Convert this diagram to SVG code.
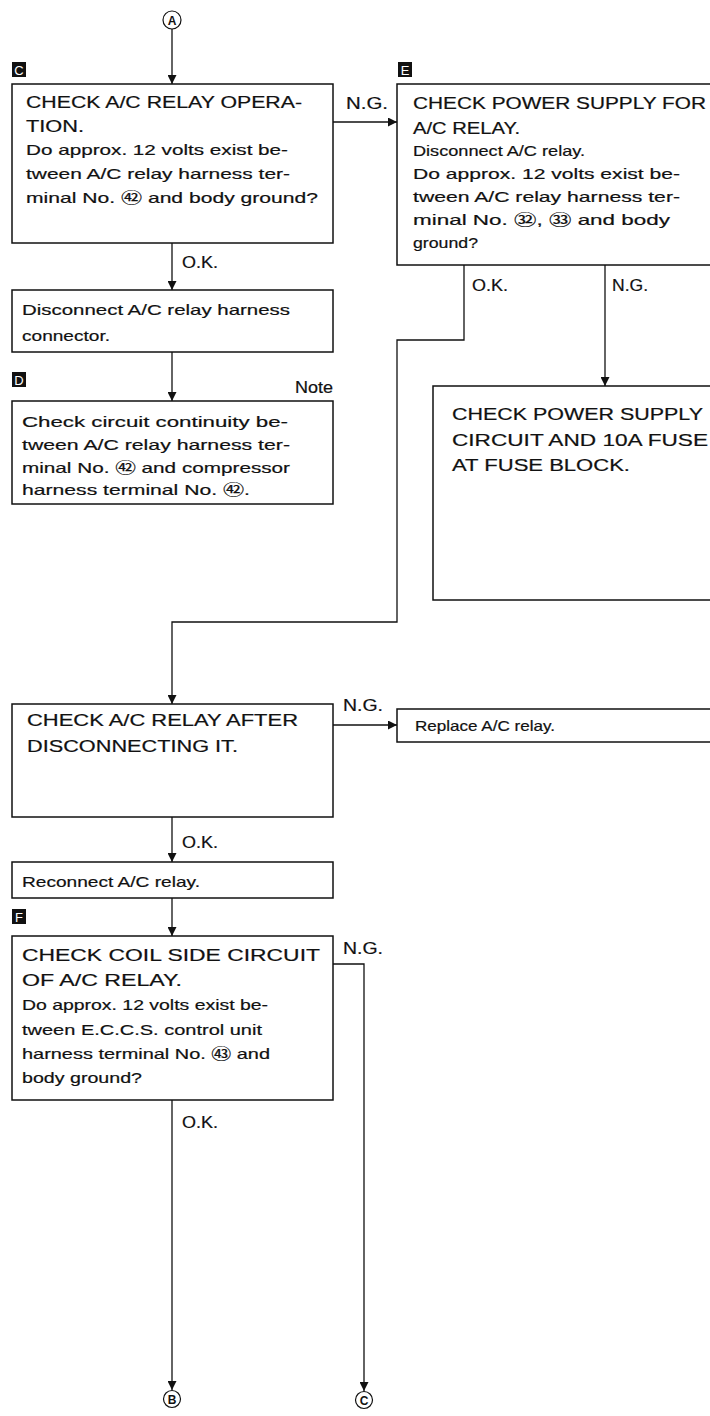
<svg xmlns="http://www.w3.org/2000/svg" width="710" height="1416" viewBox="0 0 710 1416">
<style>
.box{fill:#fff;stroke:#111;stroke-width:1.5}
.t{font-family:"Liberation Sans","Noto Sans CJK JP",sans-serif;font-size:16.5px;fill:#111;stroke:#111;stroke-width:0.2}
.tl{font-family:"Liberation Sans","Noto Sans CJK JP",sans-serif;font-size:15px;fill:#111;stroke:#111;stroke-width:0.2}
.lab{font-family:"Liberation Sans",sans-serif;font-size:16px;fill:#111;stroke:#111;stroke-width:0.2}
.conn{fill:none;stroke:#111;stroke-width:1.3}
.arr{marker-end:url(#ah)}
.sq{fill:#111}
.sqt{font-family:"Liberation Sans",sans-serif;font-size:13px;fill:#fff;text-anchor:middle}
.cir{fill:#fff;stroke:#111;stroke-width:1.2}
.cirt{font-family:"Liberation Sans",sans-serif;font-size:12px;font-weight:bold;fill:#111;text-anchor:middle}
</style>
<defs>
<marker id="ah" markerUnits="userSpaceOnUse" markerWidth="9" markerHeight="9" refX="9" refY="4.5" orient="auto">
<path d="M0,0 L9,4.5 L0,9 z" fill="#111"/>
</marker>
</defs>

<g id="connectors">
<path class="conn arr" d="M172,29 L172,84"/>
<path class="conn arr" d="M333,122 L397,122"/>
<path class="conn arr" d="M172,243 L172,290"/>
<path class="conn arr" d="M172,352 L172,401"/>
<path class="conn arr" d="M464,265 L464,340 L397,340 L397,622 L172,622 L172,704"/>
<path class="conn arr" d="M605,265 L605,386"/>
<path class="conn arr" d="M333,725 L397,725"/>
<path class="conn arr" d="M172,817 L172,862"/>
<path class="conn arr" d="M172,898 L172,936"/>
<path class="conn arr" d="M172,1100 L172,1390"/>
<path class="conn arr" d="M333,964 L364,964 L364,1391"/>
<text class="lab" x="346" y="109" textLength="42" lengthAdjust="spacingAndGlyphs">N.G.</text>
<text class="lab" x="182" y="268" textLength="36" lengthAdjust="spacingAndGlyphs">O.K.</text>
<text class="lab" x="472" y="291" textLength="36" lengthAdjust="spacingAndGlyphs">O.K.</text>
<text class="lab" x="612" y="291" textLength="36" lengthAdjust="spacingAndGlyphs">N.G.</text>
<text class="lab" x="343" y="711" textLength="40" lengthAdjust="spacingAndGlyphs">N.G.</text>
<text class="lab" x="182" y="848" textLength="36" lengthAdjust="spacingAndGlyphs">O.K.</text>
<text class="lab" x="343" y="954" textLength="40" lengthAdjust="spacingAndGlyphs">N.G.</text>
<text class="lab" x="182" y="1128" textLength="36" lengthAdjust="spacingAndGlyphs">O.K.</text>
</g>

<g id="startA">
<circle class="cir" cx="172" cy="20" r="9"/>
<text class="cirt" x="172" y="24.5">A</text>
</g>

<g id="nodeC">
<rect class="sq" x="12" y="62" width="14" height="15"/>
<text class="sqt" x="19" y="74.5">C</text>
<rect class="box" x="12" y="84" width="321" height="159"/>
<text class="t" x="26" y="108" textLength="276" lengthAdjust="spacingAndGlyphs">CHECK A/C RELAY OPERA-</text>
<text class="t" x="26" y="132" textLength="58" lengthAdjust="spacingAndGlyphs">TION.</text>
<text class="tl" x="26" y="155" textLength="262" lengthAdjust="spacingAndGlyphs">Do approx. 12 volts exist be-</text>
<text class="tl" x="26" y="179" textLength="264" lengthAdjust="spacingAndGlyphs">tween A/C relay harness ter-</text>
<text class="tl" x="26" y="203" textLength="292" lengthAdjust="spacingAndGlyphs">minal No. ㊷ and body ground?</text>
</g>

<g id="nodeE">
<rect class="sq" x="398" y="62" width="14" height="15"/>
<text class="sqt" x="405" y="74.5">E</text>
<rect class="box" x="397" y="84" width="320" height="181"/>
<text class="t" x="413" y="109" textLength="293" lengthAdjust="spacingAndGlyphs">CHECK POWER SUPPLY FOR</text>
<text class="t" x="413" y="134" textLength="107" lengthAdjust="spacingAndGlyphs">A/C RELAY.</text>
<text class="tl" x="413" y="156" textLength="172" lengthAdjust="spacingAndGlyphs">Disconnect A/C relay.</text>
<text class="tl" x="413" y="179" textLength="267" lengthAdjust="spacingAndGlyphs">Do approx. 12 volts exist be-</text>
<text class="tl" x="413" y="202" textLength="267" lengthAdjust="spacingAndGlyphs">tween A/C relay harness ter-</text>
<text class="tl" x="413" y="225" textLength="257" lengthAdjust="spacingAndGlyphs">minal No. ㉜, ㉝  and body</text>
<text class="tl" x="413" y="248" textLength="65" lengthAdjust="spacingAndGlyphs">ground?</text>
</g>

<g id="nodeDisconnect">
<rect class="box" x="12" y="290" width="321" height="62"/>
<text class="tl" x="22" y="315" textLength="268" lengthAdjust="spacingAndGlyphs">Disconnect A/C relay harness</text>
<text class="tl" x="22" y="341" textLength="88" lengthAdjust="spacingAndGlyphs">connector.</text>
</g>

<g id="nodeD">
<rect class="sq" x="12" y="372" width="14" height="15"/>
<text class="sqt" x="19" y="384.5">D</text>
<text class="lab" x="333" y="393" text-anchor="end" textLength="38" lengthAdjust="spacingAndGlyphs">Note</text>
<rect class="box" x="12" y="401" width="321" height="103"/>
<text class="tl" x="22" y="427" textLength="266" lengthAdjust="spacingAndGlyphs">Check circuit continuity be-</text>
<text class="tl" x="22" y="450" textLength="268" lengthAdjust="spacingAndGlyphs">tween A/C relay harness ter-</text>
<text class="tl" x="22" y="473" textLength="268" lengthAdjust="spacingAndGlyphs">minal No. ㊷ and compressor</text>
<text class="tl" x="22" y="495" textLength="228" lengthAdjust="spacingAndGlyphs">harness terminal No. ㊷.</text>
</g>

<g id="nodePowerCircuit">
<rect class="box" x="433" y="386" width="284" height="214"/>
<text class="t" x="452" y="420" textLength="251" lengthAdjust="spacingAndGlyphs">CHECK POWER SUPPLY</text>
<text class="t" x="452" y="446" textLength="256" lengthAdjust="spacingAndGlyphs">CIRCUIT AND 10A FUSE</text>
<text class="t" x="452" y="471" textLength="178" lengthAdjust="spacingAndGlyphs">AT FUSE BLOCK.</text>
</g>

<g id="nodeRelayAfter">
<rect class="box" x="12" y="704" width="321" height="113"/>
<text class="t" x="27" y="726" textLength="271" lengthAdjust="spacingAndGlyphs">CHECK A/C RELAY AFTER</text>
<text class="t" x="27" y="752" textLength="211" lengthAdjust="spacingAndGlyphs">DISCONNECTING IT.</text>
</g>

<g id="nodeReplace">
<rect class="box" x="397" y="709" width="320" height="33"/>
<text class="tl" x="415" y="731" textLength="140" lengthAdjust="spacingAndGlyphs">Replace A/C relay.</text>
</g>

<g id="nodeReconnect">
<rect class="box" x="12" y="862" width="321" height="36"/>
<text class="tl" x="22" y="887" textLength="178" lengthAdjust="spacingAndGlyphs">Reconnect A/C relay.</text>
</g>

<g id="nodeF">
<rect class="sq" x="12" y="909" width="14" height="15"/>
<text class="sqt" x="19" y="921.5">F</text>
<rect class="box" x="12" y="936" width="321" height="164"/>
<text class="t" x="22" y="961" textLength="298" lengthAdjust="spacingAndGlyphs">CHECK COIL SIDE CIRCUIT</text>
<text class="t" x="22" y="986" textLength="160" lengthAdjust="spacingAndGlyphs">OF A/C RELAY.</text>
<text class="tl" x="22" y="1010" textLength="246" lengthAdjust="spacingAndGlyphs">Do approx. 12 volts exist be-</text>
<text class="tl" x="22" y="1035" textLength="240" lengthAdjust="spacingAndGlyphs">tween E.C.C.S. control unit</text>
<text class="tl" x="22" y="1059" textLength="248" lengthAdjust="spacingAndGlyphs">harness terminal No. ㊸ and</text>
<text class="tl" x="22" y="1083" textLength="120" lengthAdjust="spacingAndGlyphs">body ground?</text>
</g>

<g id="endB">
<circle class="cir" cx="172" cy="1399" r="8.5"/>
<text class="cirt" x="172" y="1403.5">B</text>
</g>

<g id="endC">
<circle class="cir" cx="364" cy="1400" r="8.5"/>
<text class="cirt" x="364" y="1404.5">C</text>
</g>
</svg>
